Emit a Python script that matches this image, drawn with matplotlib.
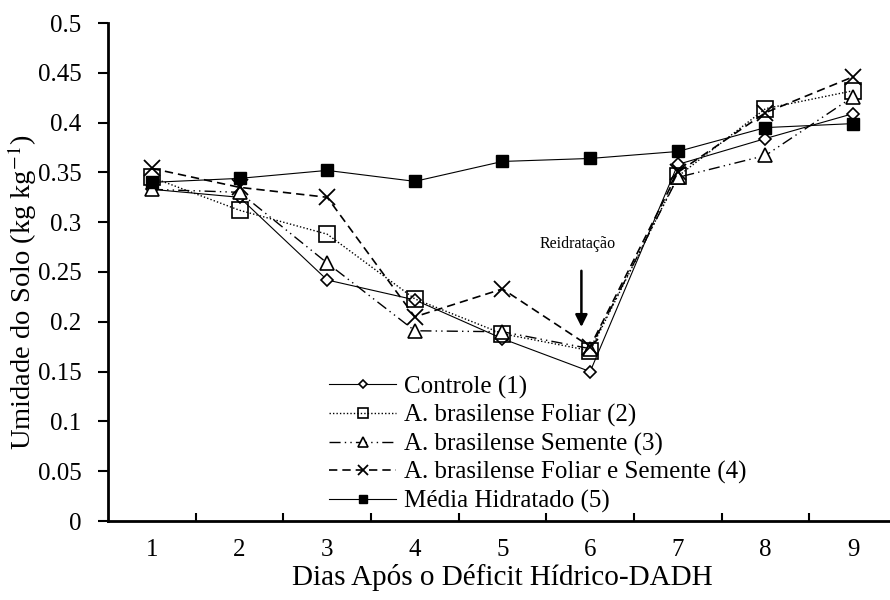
import matplotlib
matplotlib.use('agg')
import matplotlib.pyplot as plt
import numpy as np

plt.rcParams["font.family"] = ["Liberation Serif", "DejaVu Serif"]
plt.rcParams["mathtext.fontset"] = "stix"

# Umidade do solo por dia
dias = [1, 2, 3, 4, 5, 6, 7, 8, 9]
controle = [0.333, 0.325, 0.242, 0.222, 0.183, 0.150, 0.358, 0.384, 0.409]
foliar = [0.345, 0.312, 0.288, 0.223, 0.188, 0.171, 0.346, 0.414, 0.432]
semente = [0.333, 0.330, 0.259, 0.191, 0.190, 0.173, 0.345, 0.367, 0.426]
foliar_semente = [0.354, 0.335, 0.325, 0.205, 0.233, 0.175, 0.350, 0.410, 0.446]
hidratado = [0.340, 0.344, 0.352, 0.341, 0.361, 0.364, 0.371, 0.395, 0.399]

nomes = ["Controle (1)", "A. brasilense Foliar (2)", "A. brasilense Semente (3)",
         "A. brasilense Foliar e Semente (4)", "Média Hidratado (5)"]

fig = plt.figure(figsize=(8.9, 6), dpi=100)
ax = fig.add_axes([108 / 890, 1 - 521 / 600, (897 - 108) / 890, (521 - 23) / 600])

ax.plot(dias, controle, color='k', lw=0.8, marker='D', ms=6.5,
        mfc='white', mec='k', mew=1.2, label=nomes[0])
ax.plot(dias, foliar, color='k', lw=1.0, ls=(0, (1, 1.5)), marker='s', ms=11,
        mfc='none', mec='k', mew=1.2, label=nomes[1])
ax.plot(dias, semente, color='k', lw=1.0, ls=(0, (8, 3, 1, 3, 1, 3)), marker='^', ms=10,
        mfc='white', mec='k', mew=1.2, label=nomes[2])
ax.plot(dias, foliar_semente, color='k', lw=1.2, ls=(0, (5, 3)), marker='x', ms=11,
        mew=1.3, label=nomes[3])
ax.plot(dias, hidratado, color='k', lw=0.8, marker='s', ms=9,
        mfc='k', mec='k', label=nomes[4])

# Seta de reidratação no dia 6
ax.annotate("", xy=(6 - 0.1, 0.192), xytext=(6 - 0.1, 0.254),
            arrowprops=dict(arrowstyle='-|>', color='k', lw=1.8, mutation_scale=18))
ax.text(6 - 0.14, 0.278, "Reidratação", ha='center', va='center', fontsize=11.5)

ax.set_xlim(0.5, 9.5)
ax.set_ylim(0, 0.5)
ax.set_yticks(np.arange(0, 0.501, 0.05))
ax.set_yticklabels(["0", "0.05", "0.1", "0.15", "0.2", "0.25", "0.3", "0.35",
                    "0.4", "0.45", "0.5"], fontsize=18)
ax.set_xticks(dias)
ax.set_xticklabels([str(d) for d in dias], fontsize=18)
ax.tick_params(axis='x', length=0, pad=13)
ax.set_xticks(np.arange(1.5, 9.5, 1), minor=True)
ax.tick_params(axis='x', which='minor', direction='in', length=6, width=1.5)
ax.tick_params(axis='y', direction='out', length=7, width=1.5, pad=12)

for s in ['top', 'right']:
    ax.spines[s].set_visible(False)
for s in ['left', 'bottom']:
    ax.spines[s].set_linewidth(2)

ax.set_xlabel("Dias Após o Déficit Hídrico-DADH", fontsize=21, labelpad=2)
ax.set_ylabel("Umidade do Solo (kg kg$^{\\mathrm{-1}}$)", fontsize=20.5, va='center')
ax.yaxis.set_label_coords(-0.109, 0.46)

leg = ax.legend(loc='lower left', bbox_to_anchor=(0.261, -0.014), frameon=False,
                fontsize=18, handlelength=2.7, markerscale=0.7,
                labelspacing=0.22, handletextpad=0.3, borderpad=0.1)

fig.savefig("out.png", dpi=100)
